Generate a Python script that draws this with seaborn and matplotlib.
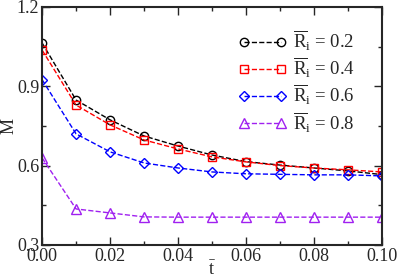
import numpy as np
import pandas as pd
import matplotlib
matplotlib.use("Agg")
import matplotlib.pyplot as plt
import seaborn as sns
from matplotlib.ticker import MultipleLocator, FormatStrFormatter

# ── data ─────────────────────────────────────────────────────────────────────
t = [0.00, 0.01, 0.02, 0.03, 0.04, 0.05, 0.06, 0.07, 0.08, 0.09, 0.10]
m_02 = [1.064, 0.848, 0.773, 0.712, 0.674, 0.640, 0.615, 0.602, 0.591, 0.580, 0.566]
m_04 = [1.037, 0.829, 0.754, 0.697, 0.663, 0.633, 0.614, 0.600, 0.591, 0.584, 0.576]
m_06 = [0.925, 0.720, 0.652, 0.610, 0.591, 0.576, 0.569, 0.567, 0.565, 0.565, 0.561]
m_08 = [0.629, 0.436, 0.421, 0.406, 0.405, 0.405, 0.405, 0.405, 0.405, 0.405, 0.405]
ri_labels = ["0.2", "0.4", "0.6", "0.8"]

series = [m_02, m_04, m_06, m_08]
colors = ["black", "#ff0000", "#0000ff", "#a020f0"]
markers = ["o", "s", "D", "^"]
msizes = [6, 6, 5, 6.5]

sns.set_style("ticks")
plt.rcParams["font.family"] = ["Liberation Serif", "DejaVu Serif"]
plt.rcParams["mathtext.fontset"] = "custom"
plt.rcParams["mathtext.rm"] = "Liberation Serif"
plt.rcParams["mathtext.it"] = "Liberation Serif:italic"

fig = plt.figure(figsize=(3.97, 2.78), dpi=100)
ax = fig.add_axes([0.106, 0.119, 0.856, 0.856])

for vals, lab, c, mk, ms in zip(series, ri_labels, colors, markers, msizes):
    df = pd.DataFrame({"t": t, "M": vals})
    sns.lineplot(data=df, x="t", y="M", ax=ax, color=c, linestyle="--", lw=1,
                 marker=mk, markersize=ms, markerfacecolor="none",
                 markeredgecolor=c, markeredgewidth=1,
                 label=r"$\overline{\mathrm{R}}_{\mathrm{i}}$ = " + lab)

ax.set_xlim(0, 0.1)
ax.set_ylim(0.3, 1.2)
ax.xaxis.set_major_locator(MultipleLocator(0.02))
ax.xaxis.set_minor_locator(MultipleLocator(0.01))
ax.xaxis.set_major_formatter(FormatStrFormatter("%.2f"))
ax.yaxis.set_major_locator(MultipleLocator(0.3))
ax.yaxis.set_minor_locator(MultipleLocator(0.15))
ax.yaxis.set_major_formatter(FormatStrFormatter("%.1f"))
ax.tick_params(which="both", direction="in", top=True, right=True,
               labelsize=13, pad=2)
ax.tick_params(which="major", length=6, width=1)
ax.tick_params(which="minor", length=3, width=1)
for sp in ax.spines.values():
    sp.set_linewidth(1.5)

ax.set_xlabel(r"$\bar{\mathrm{t}}$", fontsize=13, labelpad=-3)
ax.set_ylabel(r"$\overline{\mathrm{M}}$", fontsize=13, labelpad=-1)

ax.legend(loc="upper left", bbox_to_anchor=(0.555, 0.94), frameon=False,
          fontsize=13.5, numpoints=2, handlelength=2.6, handletextpad=0.3,
          labelspacing=0.15, borderaxespad=0)

fig.savefig("out.png", dpi=100)
